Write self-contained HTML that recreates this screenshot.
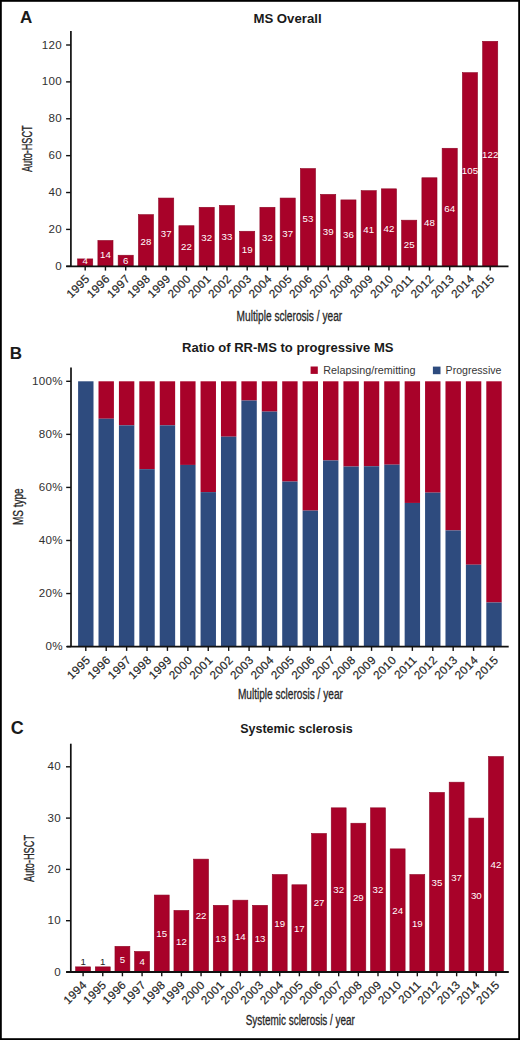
<!DOCTYPE html><html><head><meta charset="utf-8"><style>
html,body{margin:0;padding:0;background:#fff;}
body{width:520px;height:1040px;overflow:hidden;}
svg{display:block;font-family:"Liberation Sans", sans-serif;}
.tl{font-size:11.6px;fill:#262626;letter-spacing:0.35px;stroke:#262626;stroke-width:0.2px;}
.ti{font-weight:bold;fill:#1a1a1a;}
.yl{stroke-width:0;fill:#303030;}
.pl{font-weight:bold;fill:#1a1a1a;font-size:17px;}
.cd{fill:#262626;stroke:#262626;stroke-width:0.3px;}
.vl{font-size:9.7px;fill:#fff;text-anchor:middle;}
.lg{fill:#363636;}
</style></head><body>
<svg width="520" height="1040" viewBox="0 0 520 1040">
<rect x="0" y="0" width="520" height="1040" fill="#fff"/>
<rect x="0.9" y="0.9" width="518.2" height="1038.2" fill="none" stroke="#000" stroke-width="1.8"/>
<text class="pl" x="19.9" y="22.6">A</text>
<text class="ti" x="253.4" y="22.6" font-size="12.5" textLength="68.2" lengthAdjust="spacingAndGlyphs">MS Overall</text>
<rect x="77.65" y="258.92" width="15.1" height="7.38" fill="#a80229" stroke="#8e0524" stroke-width="0.6"/>
<text class="vl" x="85.2" y="264.1">4</text>
<rect x="97.9" y="240.48" width="15.1" height="25.82" fill="#a80229" stroke="#8e0524" stroke-width="0.6"/>
<text class="vl" x="105.45" y="257.79">14</text>
<rect x="118.15" y="255.23" width="15.1" height="11.07" fill="#a80229" stroke="#8e0524" stroke-width="0.6"/>
<text class="vl" x="125.7" y="264.1">6</text>
<rect x="138.4" y="214.66" width="15.1" height="51.64" fill="#a80229" stroke="#8e0524" stroke-width="0.6"/>
<text class="vl" x="145.95" y="244.88">28</text>
<rect x="158.65" y="198.06" width="15.1" height="68.24" fill="#a80229" stroke="#8e0524" stroke-width="0.6"/>
<text class="vl" x="166.2" y="236.58">37</text>
<rect x="178.9" y="225.73" width="15.1" height="40.57" fill="#a80229" stroke="#8e0524" stroke-width="0.6"/>
<text class="vl" x="186.45" y="250.41">22</text>
<rect x="199.15" y="207.29" width="15.1" height="59.01" fill="#a80229" stroke="#8e0524" stroke-width="0.6"/>
<text class="vl" x="206.7" y="241.19">32</text>
<rect x="219.4" y="205.44" width="15.1" height="60.86" fill="#a80229" stroke="#8e0524" stroke-width="0.6"/>
<text class="vl" x="226.95" y="240.27">33</text>
<rect x="239.65" y="231.26" width="15.1" height="35.04" fill="#a80229" stroke="#8e0524" stroke-width="0.6"/>
<text class="vl" x="247.2" y="253.18">19</text>
<rect x="259.9" y="207.29" width="15.1" height="59.01" fill="#a80229" stroke="#8e0524" stroke-width="0.6"/>
<text class="vl" x="267.45" y="241.19">32</text>
<rect x="280.15" y="198.06" width="15.1" height="68.24" fill="#a80229" stroke="#8e0524" stroke-width="0.6"/>
<text class="vl" x="287.7" y="236.58">37</text>
<rect x="300.4" y="168.56" width="15.1" height="97.74" fill="#a80229" stroke="#8e0524" stroke-width="0.6"/>
<text class="vl" x="307.95" y="221.83">53</text>
<rect x="320.65" y="194.38" width="15.1" height="71.92" fill="#a80229" stroke="#8e0524" stroke-width="0.6"/>
<text class="vl" x="328.2" y="234.74">39</text>
<rect x="340.9" y="199.91" width="15.1" height="66.39" fill="#a80229" stroke="#8e0524" stroke-width="0.6"/>
<text class="vl" x="348.45" y="237.5">36</text>
<rect x="361.15" y="190.69" width="15.1" height="75.61" fill="#a80229" stroke="#8e0524" stroke-width="0.6"/>
<text class="vl" x="368.7" y="232.89">41</text>
<rect x="381.4" y="188.84" width="15.1" height="77.46" fill="#a80229" stroke="#8e0524" stroke-width="0.6"/>
<text class="vl" x="388.95" y="231.97">42</text>
<rect x="401.65" y="220.19" width="15.1" height="46.11" fill="#a80229" stroke="#8e0524" stroke-width="0.6"/>
<text class="vl" x="409.2" y="247.65">25</text>
<rect x="421.9" y="177.78" width="15.1" height="88.52" fill="#a80229" stroke="#8e0524" stroke-width="0.6"/>
<text class="vl" x="429.45" y="226.44">48</text>
<rect x="442.15" y="148.27" width="15.1" height="118.03" fill="#a80229" stroke="#8e0524" stroke-width="0.6"/>
<text class="vl" x="449.7" y="211.69">64</text>
<rect x="462.4" y="72.66" width="15.1" height="193.64" fill="#a80229" stroke="#8e0524" stroke-width="0.6"/>
<text class="vl" x="469.95" y="173.88">105</text>
<rect x="482.65" y="41.31" width="15.1" height="224.99" fill="#a80229" stroke="#8e0524" stroke-width="0.6"/>
<text class="vl" x="490.2" y="158.2">122</text>
<line x1="70.9" y1="31" x2="70.9" y2="266.3" stroke="#111" stroke-width="1.7"/>
<line x1="66.1" y1="266.3" x2="70.9" y2="266.3" stroke="#111" stroke-width="1.4"/>
<text class="tl yl" x="62.15" y="269.8" text-anchor="end">0</text>
<line x1="66.1" y1="229.42" x2="70.9" y2="229.42" stroke="#111" stroke-width="1.4"/>
<text class="tl yl" x="62.15" y="232.92" text-anchor="end">20</text>
<line x1="66.1" y1="192.53" x2="70.9" y2="192.53" stroke="#111" stroke-width="1.4"/>
<text class="tl yl" x="62.15" y="196.03" text-anchor="end">40</text>
<line x1="66.1" y1="155.65" x2="70.9" y2="155.65" stroke="#111" stroke-width="1.4"/>
<text class="tl yl" x="62.15" y="159.15" text-anchor="end">60</text>
<line x1="66.1" y1="118.76" x2="70.9" y2="118.76" stroke="#111" stroke-width="1.4"/>
<text class="tl yl" x="62.15" y="122.26" text-anchor="end">80</text>
<line x1="66.1" y1="81.88" x2="70.9" y2="81.88" stroke="#111" stroke-width="1.4"/>
<text class="tl yl" x="62.15" y="85.38" text-anchor="end">100</text>
<line x1="66.1" y1="45" x2="70.9" y2="45" stroke="#111" stroke-width="1.4"/>
<text class="tl yl" x="62.15" y="48.5" text-anchor="end">120</text>
<line x1="66.3" y1="266.3" x2="508.5" y2="266.3" stroke="#111" stroke-width="1.8"/>
<line x1="85.2" y1="266.3" x2="85.2" y2="270.6" stroke="#111" stroke-width="1.4"/>
<text class="tl" x="90.4" y="279.5" text-anchor="end" transform="rotate(-45 90.4 279.5)">1995</text>
<line x1="105.45" y1="266.3" x2="105.45" y2="270.6" stroke="#111" stroke-width="1.4"/>
<text class="tl" x="110.65" y="279.5" text-anchor="end" transform="rotate(-45 110.65 279.5)">1996</text>
<line x1="125.7" y1="266.3" x2="125.7" y2="270.6" stroke="#111" stroke-width="1.4"/>
<text class="tl" x="130.9" y="279.5" text-anchor="end" transform="rotate(-45 130.9 279.5)">1997</text>
<line x1="145.95" y1="266.3" x2="145.95" y2="270.6" stroke="#111" stroke-width="1.4"/>
<text class="tl" x="151.15" y="279.5" text-anchor="end" transform="rotate(-45 151.15 279.5)">1998</text>
<line x1="166.2" y1="266.3" x2="166.2" y2="270.6" stroke="#111" stroke-width="1.4"/>
<text class="tl" x="171.4" y="279.5" text-anchor="end" transform="rotate(-45 171.4 279.5)">1999</text>
<line x1="186.45" y1="266.3" x2="186.45" y2="270.6" stroke="#111" stroke-width="1.4"/>
<text class="tl" x="191.65" y="279.5" text-anchor="end" transform="rotate(-45 191.65 279.5)">2000</text>
<line x1="206.7" y1="266.3" x2="206.7" y2="270.6" stroke="#111" stroke-width="1.4"/>
<text class="tl" x="211.9" y="279.5" text-anchor="end" transform="rotate(-45 211.9 279.5)">2001</text>
<line x1="226.95" y1="266.3" x2="226.95" y2="270.6" stroke="#111" stroke-width="1.4"/>
<text class="tl" x="232.15" y="279.5" text-anchor="end" transform="rotate(-45 232.15 279.5)">2002</text>
<line x1="247.2" y1="266.3" x2="247.2" y2="270.6" stroke="#111" stroke-width="1.4"/>
<text class="tl" x="252.4" y="279.5" text-anchor="end" transform="rotate(-45 252.4 279.5)">2003</text>
<line x1="267.45" y1="266.3" x2="267.45" y2="270.6" stroke="#111" stroke-width="1.4"/>
<text class="tl" x="272.65" y="279.5" text-anchor="end" transform="rotate(-45 272.65 279.5)">2004</text>
<line x1="287.7" y1="266.3" x2="287.7" y2="270.6" stroke="#111" stroke-width="1.4"/>
<text class="tl" x="292.9" y="279.5" text-anchor="end" transform="rotate(-45 292.9 279.5)">2005</text>
<line x1="307.95" y1="266.3" x2="307.95" y2="270.6" stroke="#111" stroke-width="1.4"/>
<text class="tl" x="313.15" y="279.5" text-anchor="end" transform="rotate(-45 313.15 279.5)">2006</text>
<line x1="328.2" y1="266.3" x2="328.2" y2="270.6" stroke="#111" stroke-width="1.4"/>
<text class="tl" x="333.4" y="279.5" text-anchor="end" transform="rotate(-45 333.4 279.5)">2007</text>
<line x1="348.45" y1="266.3" x2="348.45" y2="270.6" stroke="#111" stroke-width="1.4"/>
<text class="tl" x="353.65" y="279.5" text-anchor="end" transform="rotate(-45 353.65 279.5)">2008</text>
<line x1="368.7" y1="266.3" x2="368.7" y2="270.6" stroke="#111" stroke-width="1.4"/>
<text class="tl" x="373.9" y="279.5" text-anchor="end" transform="rotate(-45 373.9 279.5)">2009</text>
<line x1="388.95" y1="266.3" x2="388.95" y2="270.6" stroke="#111" stroke-width="1.4"/>
<text class="tl" x="394.15" y="279.5" text-anchor="end" transform="rotate(-45 394.15 279.5)">2010</text>
<line x1="409.2" y1="266.3" x2="409.2" y2="270.6" stroke="#111" stroke-width="1.4"/>
<text class="tl" x="414.4" y="279.5" text-anchor="end" transform="rotate(-45 414.4 279.5)">2011</text>
<line x1="429.45" y1="266.3" x2="429.45" y2="270.6" stroke="#111" stroke-width="1.4"/>
<text class="tl" x="434.65" y="279.5" text-anchor="end" transform="rotate(-45 434.65 279.5)">2012</text>
<line x1="449.7" y1="266.3" x2="449.7" y2="270.6" stroke="#111" stroke-width="1.4"/>
<text class="tl" x="454.9" y="279.5" text-anchor="end" transform="rotate(-45 454.9 279.5)">2013</text>
<line x1="469.95" y1="266.3" x2="469.95" y2="270.6" stroke="#111" stroke-width="1.4"/>
<text class="tl" x="475.15" y="279.5" text-anchor="end" transform="rotate(-45 475.15 279.5)">2014</text>
<line x1="490.2" y1="266.3" x2="490.2" y2="270.6" stroke="#111" stroke-width="1.4"/>
<text class="tl" x="495.4" y="279.5" text-anchor="end" transform="rotate(-45 495.4 279.5)">2015</text>
<text class="cd" transform="translate(32.3,172) rotate(-90)" font-size="14" textLength="46.6" lengthAdjust="spacingAndGlyphs">Auto-HSCT</text>
<text class="cd" x="236.6" y="320.6" font-size="14" textLength="105.6" lengthAdjust="spacingAndGlyphs">Multiple sclerosis / year</text>
<text class="pl" x="9.8" y="358.6">B</text>
<text class="ti" x="182" y="352.2" font-size="12.5" textLength="211.5" lengthAdjust="spacingAndGlyphs">Ratio of RR-MS to progressive MS</text>
<rect x="78.1" y="381.3" width="15.4" height="0" fill="#a80229"/>
<rect x="78.1" y="381.3" width="15.4" height="265.3" fill="#2e4b7e"/>
<rect x="98.51" y="381.3" width="15.4" height="37.43" fill="#a80229"/>
<rect x="98.51" y="418.73" width="15.4" height="227.87" fill="#2e4b7e"/>
<rect x="118.92" y="381.3" width="15.4" height="44.03" fill="#a80229"/>
<rect x="118.92" y="425.33" width="15.4" height="221.27" fill="#2e4b7e"/>
<rect x="139.33" y="381.3" width="15.4" height="87.86" fill="#a80229"/>
<rect x="139.33" y="469.16" width="15.4" height="177.44" fill="#2e4b7e"/>
<rect x="159.74" y="381.3" width="15.4" height="44.03" fill="#a80229"/>
<rect x="159.74" y="425.33" width="15.4" height="221.27" fill="#2e4b7e"/>
<rect x="180.15" y="381.3" width="15.4" height="83.63" fill="#a80229"/>
<rect x="180.15" y="464.93" width="15.4" height="181.67" fill="#2e4b7e"/>
<rect x="200.56" y="381.3" width="15.4" height="110.82" fill="#a80229"/>
<rect x="200.56" y="492.12" width="15.4" height="154.48" fill="#2e4b7e"/>
<rect x="220.97" y="381.3" width="15.4" height="55.38" fill="#a80229"/>
<rect x="220.97" y="436.68" width="15.4" height="209.92" fill="#2e4b7e"/>
<rect x="241.38" y="381.3" width="15.4" height="19.22" fill="#a80229"/>
<rect x="241.38" y="400.52" width="15.4" height="246.08" fill="#2e4b7e"/>
<rect x="261.79" y="381.3" width="15.4" height="30.3" fill="#a80229"/>
<rect x="261.79" y="411.6" width="15.4" height="235" fill="#2e4b7e"/>
<rect x="282.2" y="381.3" width="15.4" height="100.26" fill="#a80229"/>
<rect x="282.2" y="481.56" width="15.4" height="165.04" fill="#2e4b7e"/>
<rect x="302.61" y="381.3" width="15.4" height="129.3" fill="#a80229"/>
<rect x="302.61" y="510.6" width="15.4" height="136" fill="#2e4b7e"/>
<rect x="323.02" y="381.3" width="15.4" height="79.14" fill="#a80229"/>
<rect x="323.02" y="460.44" width="15.4" height="186.16" fill="#2e4b7e"/>
<rect x="343.43" y="381.3" width="15.4" height="85.22" fill="#a80229"/>
<rect x="343.43" y="466.52" width="15.4" height="180.08" fill="#2e4b7e"/>
<rect x="363.84" y="381.3" width="15.4" height="84.95" fill="#a80229"/>
<rect x="363.84" y="466.25" width="15.4" height="180.35" fill="#2e4b7e"/>
<rect x="384.25" y="381.3" width="15.4" height="83.37" fill="#a80229"/>
<rect x="384.25" y="464.67" width="15.4" height="181.93" fill="#2e4b7e"/>
<rect x="404.66" y="381.3" width="15.4" height="121.65" fill="#a80229"/>
<rect x="404.66" y="502.95" width="15.4" height="143.65" fill="#2e4b7e"/>
<rect x="425.07" y="381.3" width="15.4" height="111.35" fill="#a80229"/>
<rect x="425.07" y="492.65" width="15.4" height="153.95" fill="#2e4b7e"/>
<rect x="445.48" y="381.3" width="15.4" height="149.1" fill="#a80229"/>
<rect x="445.48" y="530.4" width="15.4" height="116.2" fill="#2e4b7e"/>
<rect x="465.89" y="381.3" width="15.4" height="183.42" fill="#a80229"/>
<rect x="465.89" y="564.72" width="15.4" height="81.88" fill="#2e4b7e"/>
<rect x="486.3" y="381.3" width="15.4" height="221.18" fill="#a80229"/>
<rect x="486.3" y="602.48" width="15.4" height="44.12" fill="#2e4b7e"/>
<line x1="71" y1="367.5" x2="71" y2="646.6" stroke="#111" stroke-width="1.7"/>
<line x1="66.2" y1="646.6" x2="71" y2="646.6" stroke="#111" stroke-width="1.4"/>
<text class="tl yl" x="62.95" y="650.1" text-anchor="end">0%</text>
<line x1="66.2" y1="593.54" x2="71" y2="593.54" stroke="#111" stroke-width="1.4"/>
<text class="tl yl" x="62.95" y="597.04" text-anchor="end">20%</text>
<line x1="66.2" y1="540.48" x2="71" y2="540.48" stroke="#111" stroke-width="1.4"/>
<text class="tl yl" x="62.95" y="543.98" text-anchor="end">40%</text>
<line x1="66.2" y1="487.42" x2="71" y2="487.42" stroke="#111" stroke-width="1.4"/>
<text class="tl yl" x="62.95" y="490.92" text-anchor="end">60%</text>
<line x1="66.2" y1="434.36" x2="71" y2="434.36" stroke="#111" stroke-width="1.4"/>
<text class="tl yl" x="62.95" y="437.86" text-anchor="end">80%</text>
<line x1="66.2" y1="381.3" x2="71" y2="381.3" stroke="#111" stroke-width="1.4"/>
<text class="tl yl" x="62.95" y="384.8" text-anchor="end">100%</text>
<line x1="66.9" y1="646.6" x2="508.7" y2="646.6" stroke="#111" stroke-width="1.8"/>
<line x1="85.8" y1="646.6" x2="85.8" y2="650.9" stroke="#111" stroke-width="1.4"/>
<text class="tl" x="91" y="660.8" text-anchor="end" transform="rotate(-45 91 660.8)">1995</text>
<line x1="106.21" y1="646.6" x2="106.21" y2="650.9" stroke="#111" stroke-width="1.4"/>
<text class="tl" x="111.41" y="660.8" text-anchor="end" transform="rotate(-45 111.41 660.8)">1996</text>
<line x1="126.62" y1="646.6" x2="126.62" y2="650.9" stroke="#111" stroke-width="1.4"/>
<text class="tl" x="131.82" y="660.8" text-anchor="end" transform="rotate(-45 131.82 660.8)">1997</text>
<line x1="147.03" y1="646.6" x2="147.03" y2="650.9" stroke="#111" stroke-width="1.4"/>
<text class="tl" x="152.23" y="660.8" text-anchor="end" transform="rotate(-45 152.23 660.8)">1998</text>
<line x1="167.44" y1="646.6" x2="167.44" y2="650.9" stroke="#111" stroke-width="1.4"/>
<text class="tl" x="172.64" y="660.8" text-anchor="end" transform="rotate(-45 172.64 660.8)">1999</text>
<line x1="187.85" y1="646.6" x2="187.85" y2="650.9" stroke="#111" stroke-width="1.4"/>
<text class="tl" x="193.05" y="660.8" text-anchor="end" transform="rotate(-45 193.05 660.8)">2000</text>
<line x1="208.26" y1="646.6" x2="208.26" y2="650.9" stroke="#111" stroke-width="1.4"/>
<text class="tl" x="213.46" y="660.8" text-anchor="end" transform="rotate(-45 213.46 660.8)">2001</text>
<line x1="228.67" y1="646.6" x2="228.67" y2="650.9" stroke="#111" stroke-width="1.4"/>
<text class="tl" x="233.87" y="660.8" text-anchor="end" transform="rotate(-45 233.87 660.8)">2002</text>
<line x1="249.08" y1="646.6" x2="249.08" y2="650.9" stroke="#111" stroke-width="1.4"/>
<text class="tl" x="254.28" y="660.8" text-anchor="end" transform="rotate(-45 254.28 660.8)">2003</text>
<line x1="269.49" y1="646.6" x2="269.49" y2="650.9" stroke="#111" stroke-width="1.4"/>
<text class="tl" x="274.69" y="660.8" text-anchor="end" transform="rotate(-45 274.69 660.8)">2004</text>
<line x1="289.9" y1="646.6" x2="289.9" y2="650.9" stroke="#111" stroke-width="1.4"/>
<text class="tl" x="295.1" y="660.8" text-anchor="end" transform="rotate(-45 295.1 660.8)">2005</text>
<line x1="310.31" y1="646.6" x2="310.31" y2="650.9" stroke="#111" stroke-width="1.4"/>
<text class="tl" x="315.51" y="660.8" text-anchor="end" transform="rotate(-45 315.51 660.8)">2006</text>
<line x1="330.72" y1="646.6" x2="330.72" y2="650.9" stroke="#111" stroke-width="1.4"/>
<text class="tl" x="335.92" y="660.8" text-anchor="end" transform="rotate(-45 335.92 660.8)">2007</text>
<line x1="351.13" y1="646.6" x2="351.13" y2="650.9" stroke="#111" stroke-width="1.4"/>
<text class="tl" x="356.33" y="660.8" text-anchor="end" transform="rotate(-45 356.33 660.8)">2008</text>
<line x1="371.54" y1="646.6" x2="371.54" y2="650.9" stroke="#111" stroke-width="1.4"/>
<text class="tl" x="376.74" y="660.8" text-anchor="end" transform="rotate(-45 376.74 660.8)">2009</text>
<line x1="391.95" y1="646.6" x2="391.95" y2="650.9" stroke="#111" stroke-width="1.4"/>
<text class="tl" x="397.15" y="660.8" text-anchor="end" transform="rotate(-45 397.15 660.8)">2010</text>
<line x1="412.36" y1="646.6" x2="412.36" y2="650.9" stroke="#111" stroke-width="1.4"/>
<text class="tl" x="417.56" y="660.8" text-anchor="end" transform="rotate(-45 417.56 660.8)">2011</text>
<line x1="432.77" y1="646.6" x2="432.77" y2="650.9" stroke="#111" stroke-width="1.4"/>
<text class="tl" x="437.97" y="660.8" text-anchor="end" transform="rotate(-45 437.97 660.8)">2012</text>
<line x1="453.18" y1="646.6" x2="453.18" y2="650.9" stroke="#111" stroke-width="1.4"/>
<text class="tl" x="458.38" y="660.8" text-anchor="end" transform="rotate(-45 458.38 660.8)">2013</text>
<line x1="473.59" y1="646.6" x2="473.59" y2="650.9" stroke="#111" stroke-width="1.4"/>
<text class="tl" x="478.79" y="660.8" text-anchor="end" transform="rotate(-45 478.79 660.8)">2014</text>
<line x1="494" y1="646.6" x2="494" y2="650.9" stroke="#111" stroke-width="1.4"/>
<text class="tl" x="499.2" y="660.8" text-anchor="end" transform="rotate(-45 499.2 660.8)">2015</text>
<text class="cd" transform="translate(22.6,525) rotate(-90)" font-size="14" textLength="36.6" lengthAdjust="spacingAndGlyphs">MS type</text>
<text class="cd" x="237.9" y="698.8" font-size="14" textLength="105" lengthAdjust="spacingAndGlyphs">Multiple sclerosis / year</text>
<rect x="310.6" y="366.5" width="7.2" height="7.4" fill="#a80229"/>
<text class="lg" x="323.3" y="373.9" font-size="10.6" textLength="92.2" lengthAdjust="spacingAndGlyphs">Relapsing/remitting</text>
<rect x="432.9" y="366.6" width="7.6" height="7.6" fill="#2e4b7e"/>
<text class="lg" x="445.6" y="373.9" font-size="10.6" textLength="55.8" lengthAdjust="spacingAndGlyphs">Progressive</text>
<text class="pl" x="10.7" y="733.7" style="font-size:18px">C</text>
<text class="ti" x="240.2" y="733.3" font-size="12.5" textLength="112.4" lengthAdjust="spacingAndGlyphs">Systemic sclerosis</text>
<rect x="75.65" y="966.87" width="14.9" height="5.13" fill="#a80229" stroke="#8e0524" stroke-width="0.6"/>
<text class="vl" style="fill:#222" x="83.1" y="965.07">1</text>
<rect x="95.31" y="966.87" width="14.9" height="5.13" fill="#a80229" stroke="#8e0524" stroke-width="0.6"/>
<text class="vl" style="fill:#222" x="102.76" y="965.07">1</text>
<rect x="114.97" y="946.35" width="14.9" height="25.65" fill="#a80229" stroke="#8e0524" stroke-width="0.6"/>
<text class="vl" x="122.42" y="962.67">5</text>
<rect x="134.63" y="951.48" width="14.9" height="20.52" fill="#a80229" stroke="#8e0524" stroke-width="0.6"/>
<text class="vl" x="142.08" y="965.24">4</text>
<rect x="154.29" y="895.05" width="14.9" height="76.95" fill="#a80229" stroke="#8e0524" stroke-width="0.6"/>
<text class="vl" x="161.74" y="937.02">15</text>
<rect x="173.95" y="910.44" width="14.9" height="61.56" fill="#a80229" stroke="#8e0524" stroke-width="0.6"/>
<text class="vl" x="181.4" y="944.72">12</text>
<rect x="193.61" y="859.14" width="14.9" height="112.86" fill="#a80229" stroke="#8e0524" stroke-width="0.6"/>
<text class="vl" x="201.06" y="919.07">22</text>
<rect x="213.27" y="905.31" width="14.9" height="66.69" fill="#a80229" stroke="#8e0524" stroke-width="0.6"/>
<text class="vl" x="220.72" y="942.15">13</text>
<rect x="232.93" y="900.18" width="14.9" height="71.82" fill="#a80229" stroke="#8e0524" stroke-width="0.6"/>
<text class="vl" x="240.38" y="939.59">14</text>
<rect x="252.59" y="905.31" width="14.9" height="66.69" fill="#a80229" stroke="#8e0524" stroke-width="0.6"/>
<text class="vl" x="260.04" y="942.15">13</text>
<rect x="272.25" y="874.53" width="14.9" height="97.47" fill="#a80229" stroke="#8e0524" stroke-width="0.6"/>
<text class="vl" x="279.7" y="926.76">19</text>
<rect x="291.91" y="884.79" width="14.9" height="87.21" fill="#a80229" stroke="#8e0524" stroke-width="0.6"/>
<text class="vl" x="299.36" y="931.89">17</text>
<rect x="311.57" y="833.49" width="14.9" height="138.51" fill="#a80229" stroke="#8e0524" stroke-width="0.6"/>
<text class="vl" x="319.02" y="906.25">27</text>
<rect x="331.23" y="807.84" width="14.9" height="164.16" fill="#a80229" stroke="#8e0524" stroke-width="0.6"/>
<text class="vl" x="338.68" y="893.42">32</text>
<rect x="350.89" y="823.23" width="14.9" height="148.77" fill="#a80229" stroke="#8e0524" stroke-width="0.6"/>
<text class="vl" x="358.34" y="901.12">29</text>
<rect x="370.55" y="807.84" width="14.9" height="164.16" fill="#a80229" stroke="#8e0524" stroke-width="0.6"/>
<text class="vl" x="378" y="893.42">32</text>
<rect x="390.21" y="848.88" width="14.9" height="123.12" fill="#a80229" stroke="#8e0524" stroke-width="0.6"/>
<text class="vl" x="397.66" y="913.94">24</text>
<rect x="409.87" y="874.53" width="14.9" height="97.47" fill="#a80229" stroke="#8e0524" stroke-width="0.6"/>
<text class="vl" x="417.32" y="926.76">19</text>
<rect x="429.53" y="792.45" width="14.9" height="179.55" fill="#a80229" stroke="#8e0524" stroke-width="0.6"/>
<text class="vl" x="436.98" y="885.73">35</text>
<rect x="449.19" y="782.19" width="14.9" height="189.81" fill="#a80229" stroke="#8e0524" stroke-width="0.6"/>
<text class="vl" x="456.64" y="880.6">37</text>
<rect x="468.85" y="818.1" width="14.9" height="153.9" fill="#a80229" stroke="#8e0524" stroke-width="0.6"/>
<text class="vl" x="476.3" y="898.55">30</text>
<rect x="488.51" y="756.54" width="14.9" height="215.46" fill="#a80229" stroke="#8e0524" stroke-width="0.6"/>
<text class="vl" x="495.96" y="867.77">42</text>
<line x1="70.8" y1="743.7" x2="70.8" y2="972" stroke="#111" stroke-width="1.7"/>
<line x1="66" y1="972" x2="70.8" y2="972" stroke="#111" stroke-width="1.4"/>
<text class="tl yl" x="61.15" y="975.5" text-anchor="end">0</text>
<line x1="66" y1="920.7" x2="70.8" y2="920.7" stroke="#111" stroke-width="1.4"/>
<text class="tl yl" x="61.15" y="924.2" text-anchor="end">10</text>
<line x1="66" y1="869.4" x2="70.8" y2="869.4" stroke="#111" stroke-width="1.4"/>
<text class="tl yl" x="61.15" y="872.9" text-anchor="end">20</text>
<line x1="66" y1="818.1" x2="70.8" y2="818.1" stroke="#111" stroke-width="1.4"/>
<text class="tl yl" x="61.15" y="821.6" text-anchor="end">30</text>
<line x1="66" y1="766.8" x2="70.8" y2="766.8" stroke="#111" stroke-width="1.4"/>
<text class="tl yl" x="61.15" y="770.3" text-anchor="end">40</text>
<line x1="66.2" y1="972" x2="508.8" y2="972" stroke="#111" stroke-width="1.8"/>
<line x1="83.1" y1="972" x2="83.1" y2="976.3" stroke="#111" stroke-width="1.4"/>
<text class="tl" x="87.5" y="985.7" text-anchor="end" transform="rotate(-45 87.5 985.7)">1994</text>
<line x1="102.76" y1="972" x2="102.76" y2="976.3" stroke="#111" stroke-width="1.4"/>
<text class="tl" x="107.16" y="985.7" text-anchor="end" transform="rotate(-45 107.16 985.7)">1995</text>
<line x1="122.42" y1="972" x2="122.42" y2="976.3" stroke="#111" stroke-width="1.4"/>
<text class="tl" x="126.82" y="985.7" text-anchor="end" transform="rotate(-45 126.82 985.7)">1996</text>
<line x1="142.08" y1="972" x2="142.08" y2="976.3" stroke="#111" stroke-width="1.4"/>
<text class="tl" x="146.48" y="985.7" text-anchor="end" transform="rotate(-45 146.48 985.7)">1997</text>
<line x1="161.74" y1="972" x2="161.74" y2="976.3" stroke="#111" stroke-width="1.4"/>
<text class="tl" x="166.14" y="985.7" text-anchor="end" transform="rotate(-45 166.14 985.7)">1998</text>
<line x1="181.4" y1="972" x2="181.4" y2="976.3" stroke="#111" stroke-width="1.4"/>
<text class="tl" x="185.8" y="985.7" text-anchor="end" transform="rotate(-45 185.8 985.7)">1999</text>
<line x1="201.06" y1="972" x2="201.06" y2="976.3" stroke="#111" stroke-width="1.4"/>
<text class="tl" x="205.46" y="985.7" text-anchor="end" transform="rotate(-45 205.46 985.7)">2000</text>
<line x1="220.72" y1="972" x2="220.72" y2="976.3" stroke="#111" stroke-width="1.4"/>
<text class="tl" x="225.12" y="985.7" text-anchor="end" transform="rotate(-45 225.12 985.7)">2001</text>
<line x1="240.38" y1="972" x2="240.38" y2="976.3" stroke="#111" stroke-width="1.4"/>
<text class="tl" x="244.78" y="985.7" text-anchor="end" transform="rotate(-45 244.78 985.7)">2002</text>
<line x1="260.04" y1="972" x2="260.04" y2="976.3" stroke="#111" stroke-width="1.4"/>
<text class="tl" x="264.44" y="985.7" text-anchor="end" transform="rotate(-45 264.44 985.7)">2003</text>
<line x1="279.7" y1="972" x2="279.7" y2="976.3" stroke="#111" stroke-width="1.4"/>
<text class="tl" x="284.1" y="985.7" text-anchor="end" transform="rotate(-45 284.1 985.7)">2004</text>
<line x1="299.36" y1="972" x2="299.36" y2="976.3" stroke="#111" stroke-width="1.4"/>
<text class="tl" x="303.76" y="985.7" text-anchor="end" transform="rotate(-45 303.76 985.7)">2005</text>
<line x1="319.02" y1="972" x2="319.02" y2="976.3" stroke="#111" stroke-width="1.4"/>
<text class="tl" x="323.42" y="985.7" text-anchor="end" transform="rotate(-45 323.42 985.7)">2006</text>
<line x1="338.68" y1="972" x2="338.68" y2="976.3" stroke="#111" stroke-width="1.4"/>
<text class="tl" x="343.08" y="985.7" text-anchor="end" transform="rotate(-45 343.08 985.7)">2007</text>
<line x1="358.34" y1="972" x2="358.34" y2="976.3" stroke="#111" stroke-width="1.4"/>
<text class="tl" x="362.74" y="985.7" text-anchor="end" transform="rotate(-45 362.74 985.7)">2008</text>
<line x1="378" y1="972" x2="378" y2="976.3" stroke="#111" stroke-width="1.4"/>
<text class="tl" x="382.4" y="985.7" text-anchor="end" transform="rotate(-45 382.4 985.7)">2009</text>
<line x1="397.66" y1="972" x2="397.66" y2="976.3" stroke="#111" stroke-width="1.4"/>
<text class="tl" x="402.06" y="985.7" text-anchor="end" transform="rotate(-45 402.06 985.7)">2010</text>
<line x1="417.32" y1="972" x2="417.32" y2="976.3" stroke="#111" stroke-width="1.4"/>
<text class="tl" x="421.72" y="985.7" text-anchor="end" transform="rotate(-45 421.72 985.7)">2011</text>
<line x1="436.98" y1="972" x2="436.98" y2="976.3" stroke="#111" stroke-width="1.4"/>
<text class="tl" x="441.38" y="985.7" text-anchor="end" transform="rotate(-45 441.38 985.7)">2012</text>
<line x1="456.64" y1="972" x2="456.64" y2="976.3" stroke="#111" stroke-width="1.4"/>
<text class="tl" x="461.04" y="985.7" text-anchor="end" transform="rotate(-45 461.04 985.7)">2013</text>
<line x1="476.3" y1="972" x2="476.3" y2="976.3" stroke="#111" stroke-width="1.4"/>
<text class="tl" x="480.7" y="985.7" text-anchor="end" transform="rotate(-45 480.7 985.7)">2014</text>
<line x1="495.96" y1="972" x2="495.96" y2="976.3" stroke="#111" stroke-width="1.4"/>
<text class="tl" x="500.36" y="985.7" text-anchor="end" transform="rotate(-45 500.36 985.7)">2015</text>
<text class="cd" transform="translate(34,882) rotate(-90)" font-size="14" textLength="47" lengthAdjust="spacingAndGlyphs">Auto-HSCT</text>
<text class="cd" x="245.7" y="1025.2" font-size="14" textLength="109.2" lengthAdjust="spacingAndGlyphs">Systemic sclerosis / year</text>
</svg></body></html>
